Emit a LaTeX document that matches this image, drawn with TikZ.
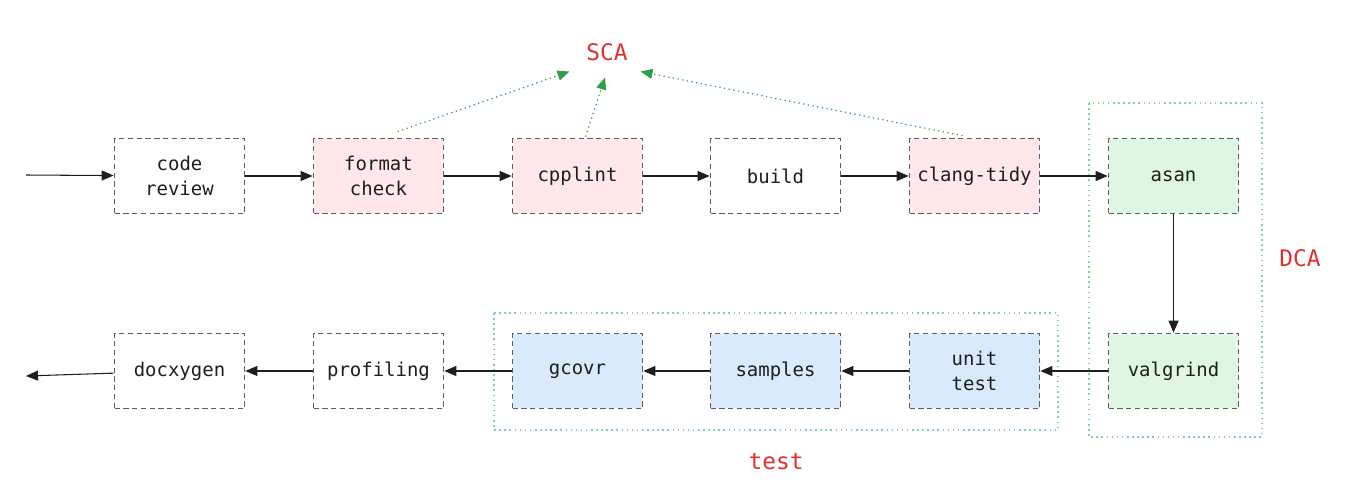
\documentclass[tikz,border=0pt]{standalone}
\usepackage{fontspec}
\setmonofont{DejaVu Sans Mono}
\usetikzlibrary{arrows.meta}
\definecolor{Tinta}{HTML}{1E1E1E}
\definecolor{Borde}{HTML}{5E5E5E}
\definecolor{Rojo}{HTML}{E03131}
\definecolor{Verde}{HTML}{2F9E44}
\definecolor{VerdeClaro}{HTML}{88CF96}
\definecolor{FondoRosa}{HTML}{FFE7EA}
\definecolor{FondoVerde}{HTML}{DFF6E3}
\definecolor{FondoAzul}{HTML}{D8EAFB}

\begin{document}
\begin{tikzpicture}[
  x=0.02cm, y=-0.02cm,
  every node/.style={font=\ttfamily\fontsize{10.8}{14.2}\selectfont, text=Tinta},
  stage/.style={draw=Borde, line width=1pt, dash pattern=on 3pt off 2pt,
    minimum width=2.6cm, minimum height=1.5cm, align=center, inner sep=2pt},
  flow/.style={draw=Tinta, line width=0.6pt, -{Triangle[length=0.24cm,width=0.2cm]}},
  hint/.style={draw=Verde, line width=0.7pt, dotted, -{Triangle[length=0.24cm,width=0.2cm]}, Verde},
  group/.style={draw=VerdeClaro, line width=0.9pt, dotted},
  tag/.style={font=\ttfamily\fontsize{13}{15}\selectfont, text=Rojo}
]
  \useasboundingbox (0,0) rectangle (1368,503);

  \node[stage] (review) at (179.5,176) {code\\review};
  \node[stage, fill=FondoRosa] (fmt) at (378.5,176) {format\\check};
  \node[stage, fill=FondoRosa] (lint) at (577.5,176) {cpplint};
  \node[stage] (build) at (775.5,176) {build};
  \node[stage, fill=FondoRosa] (tidy) at (974.5,176) {clang-tidy};
  \node[stage, fill=FondoVerde] (asan) at (1173.5,176) {asan};

  \node[stage, fill=FondoVerde] (vg) at (1173.5,371) {valgrind};
  \node[stage, fill=FondoAzul] (unit) at (974.5,371) {unit\\test};
  \node[stage, fill=FondoAzul] (smp) at (775.5,371) {samples};
  \node[stage, fill=FondoAzul] (cov) at (577.5,371) {gcovr};
  \node[stage] (prof) at (378.5,371) {profiling};
  \node[stage] (doc) at (179.5,371) {docxygen};

  \coordinate (in) at (26,175);
  \coordinate (out) at (26,376);

  % grupos de analisis dinamico y pruebas
  \draw[group] (1089,103) rectangle (1262,437);
  \draw[group] (494,313) rectangle (1058,430);
  \node[tag] (dca) at (1300,258) {DCA};
  \node[tag] (tst) at (776,462) {test};
  \node[tag, inner sep=6pt] (sca) at (607,52) {SCA};

  \draw[flow] (in) -- (review);
  \draw[flow] (review) -- (fmt);
  \draw[flow] (fmt) -- (lint);
  \draw[flow] (lint) -- (build);
  \draw[flow] (build) -- (tidy);
  \draw[flow] (tidy) -- (asan);
  \draw[flow] (asan) -- (vg);
  \draw[flow] (vg) -- (unit);
  \draw[flow] (unit) -- (smp);
  \draw[flow] (smp) -- (cov);
  \draw[flow] (cov) -- (prof);
  \draw[flow] (prof) -- (doc);
  \draw[flow] (doc) -- (out);

  % analisis estatico
  \draw[hint] ([shift={(19,-6)}]fmt.north) -- ([shift={(-6,0)}]sca.south west);
  \draw[hint] ([shift={(8,-1)}]lint.north) -- ([shift={(-2,6)}]sca.south);
  \draw[hint] ([shift={(-12,-2)}]tidy.north) -- ([shift={(2,0)}]sca.south east);
\end{tikzpicture}
\end{document}
